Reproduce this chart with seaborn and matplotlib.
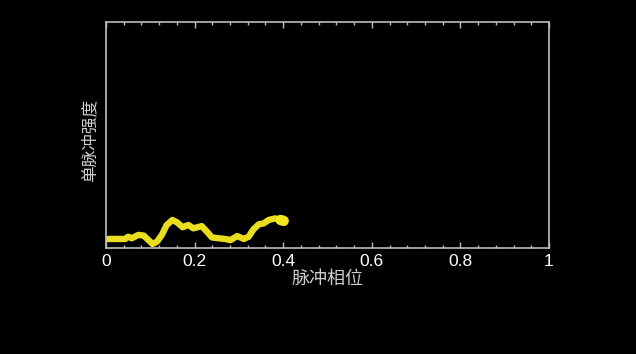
import numpy as np
import pandas as pd
import matplotlib
matplotlib.use("Agg")
import matplotlib.pyplot as plt
import seaborn as sns
from matplotlib.ticker import MultipleLocator, FuncFormatter

# Pulse phase and single-pulse intensity
phase = [0.002, 0.043, 0.05, 0.058, 0.073, 0.085, 0.096, 0.105, 0.115, 0.126,
         0.137, 0.150, 0.160, 0.173, 0.186, 0.197, 0.216, 0.228, 0.239, 0.254,
         0.269, 0.281, 0.296, 0.311, 0.322, 0.333, 0.345, 0.356, 0.367, 0.382,
         0.394, 0.401]
intensity = [0.04, 0.04, 0.05, 0.043, 0.058, 0.055, 0.035, 0.018, 0.028, 0.058,
             0.102, 0.124, 0.114, 0.092, 0.102, 0.087, 0.097, 0.072, 0.047, 0.043,
             0.04, 0.035, 0.053, 0.04, 0.05, 0.083, 0.105, 0.109, 0.124, 0.131,
             0.124, 0.12]

df = pd.DataFrame({"phase": phase, "intensity": intensity})

sns.set_theme(style="white")
plt.rcParams['font.family'] = ['Liberation Sans', 'Noto Sans CJK SC', 'DejaVu Sans']

fig = plt.figure(figsize=(6.36, 3.54), dpi=100, facecolor="black")
ax = fig.add_axes([0.1667, 0.2994, 0.6965, 0.6385])
ax.set_facecolor("black")

sns.lineplot(data=df, x="phase", y="intensity", ax=ax, color="#e8de1e",
             linewidth=4.6, solid_capstyle="round", solid_joinstyle="round")
ax.plot(phase[-2:], intensity[-2:], color="#f2e820", linewidth=7.5,
        solid_capstyle="round")

ax.set_xlim(0, 1)
ax.set_ylim(0, 1)
ax.xaxis.set_major_locator(MultipleLocator(0.2))
ax.xaxis.set_minor_locator(MultipleLocator(0.04))
ax.xaxis.set_major_formatter(FuncFormatter(lambda v, p: f"{v:g}"))
ax.set_yticks([])
ax.tick_params(axis="x", which="both", direction="in", top=True, bottom=True,
               colors="#bdbdbd", labelcolor="white", labelsize=12.5, pad=4)
ax.tick_params(axis="x", which="major", length=4, width=1)
ax.tick_params(axis="x", which="minor", length=2.5, width=1)
for s in ax.spines.values():
    s.set_color("#bdbdbd")
    s.set_linewidth(1.2)

ax.set_xlabel("脉冲相位", color="#cfcfcf", fontsize=13,
              family=['Noto Sans CJK SC', 'DejaVu Sans'], labelpad=1)
ax.set_ylabel("单脉冲强度", color="#cfcfcf", fontsize=12,
              family=['Noto Sans CJK SC', 'DejaVu Sans'])
ax.yaxis.set_label_coords(-0.018, 0.475)

fig.savefig("out.png", dpi=100, facecolor="black")
